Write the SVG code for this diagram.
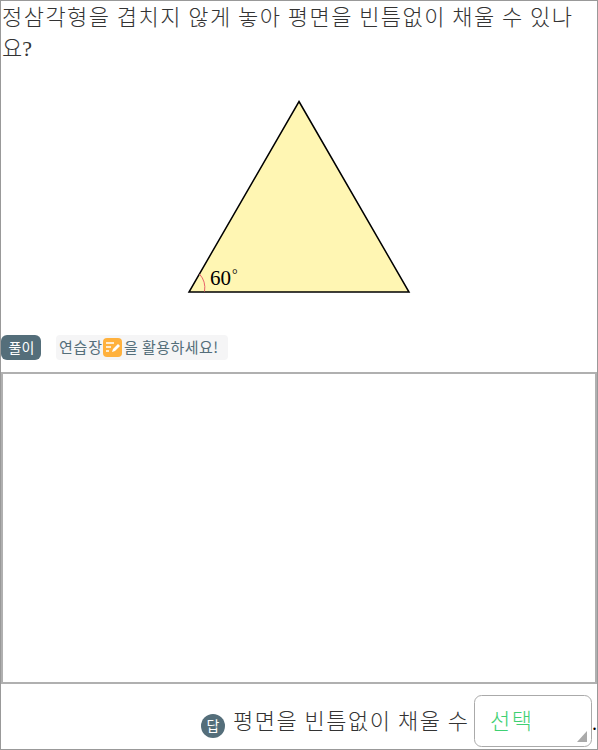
<svg xmlns="http://www.w3.org/2000/svg" width="598" height="750" viewBox="0 0 598 750">
<style>
.q{font-family:"Noto Sans CJK KR","Liberation Serif",serif;font-size:22px;font-weight:300;fill:#333;}
.m{font-family:"Liberation Serif",serif;fill:#000;}
.s{font-family:"Noto Sans CJK KR","Noto Sans",sans-serif;}
</style>
<rect width="598" height="750" fill="#fff"/>
<rect x="0.5" y="0.5" width="597" height="749" fill="none" stroke="#999"/>
<g id="question">
<text class="q" x="2" y="25" textLength="570">정삼각형을 겹치지 않게 놓아 평면을 빈틈없이 채울 수 있나</text>
<text class="q" x="2" y="56">요<tspan font-family="Liberation Serif">?</tspan></text>
</g>
<g id="triangle">
<polygon points="299,101.500 409,292 189,292" fill="#fff6b3" stroke="#000" stroke-width="1.500" stroke-linejoin="miter"/>
<path d="M199.500,274 A21,21 0 0 1 204.500,291.500" fill="none" stroke="#e8636b" stroke-width="1"/>
<text class="m" x="210" y="285" font-size="21">60</text>
<text class="m" x="232" y="279" font-size="14">°</text>
</g>
<g id="solution-badge">
<rect x="1" y="335" width="40" height="25" rx="6" fill="#546e7a"/>
<text class="s" x="21.500" y="353" font-size="14" fill="#fff" text-anchor="middle">풀이</text>
</g>
<g id="hint">
<rect x="56" y="335" width="172" height="25" rx="4" fill="#f5f5f6"/>
<text class="s" x="59" y="353" font-size="15" fill="#546e7a" textLength="43">연습장</text>
<rect x="103" y="338" width="19" height="19" rx="4" fill="#ffb13d"/>
<path d="M106,343h8M106,347h5M106,351h3" stroke="#fff" stroke-width="1.400" fill="none"/>
<path d="M112,352l1-3 5-5 2,2-5,5z" fill="#fff"/>
<text class="s" x="124" y="353" font-size="15" fill="#546e7a" textLength="94">을 활용하세요!</text>
</g>
<g id="workspace">
<rect x="2" y="373" width="594" height="310" fill="#fff" stroke="#b0b0b0" stroke-width="2"/>
</g>
<g id="answer">
<circle cx="213" cy="726" r="12" fill="#546e7a"/>
<text class="s" x="213" y="731" font-size="14" fill="#fff" text-anchor="middle">답</text>
<text class="q" x="233" y="729" textLength="235">평면을 빈틈없이 채울 수</text>
<rect x="474.500" y="695.500" width="117" height="51" rx="7" fill="#fff" stroke="#aaa"/>
<text class="s" x="490" y="729" font-size="22" font-weight="300" fill="#3fd072" textLength="42">선택</text>
<polygon points="587,731 587,742 577,742" fill="#aaa"/>
<text class="m" x="592" y="730" font-size="20" fill="#333">.</text>
</g>
</svg>
